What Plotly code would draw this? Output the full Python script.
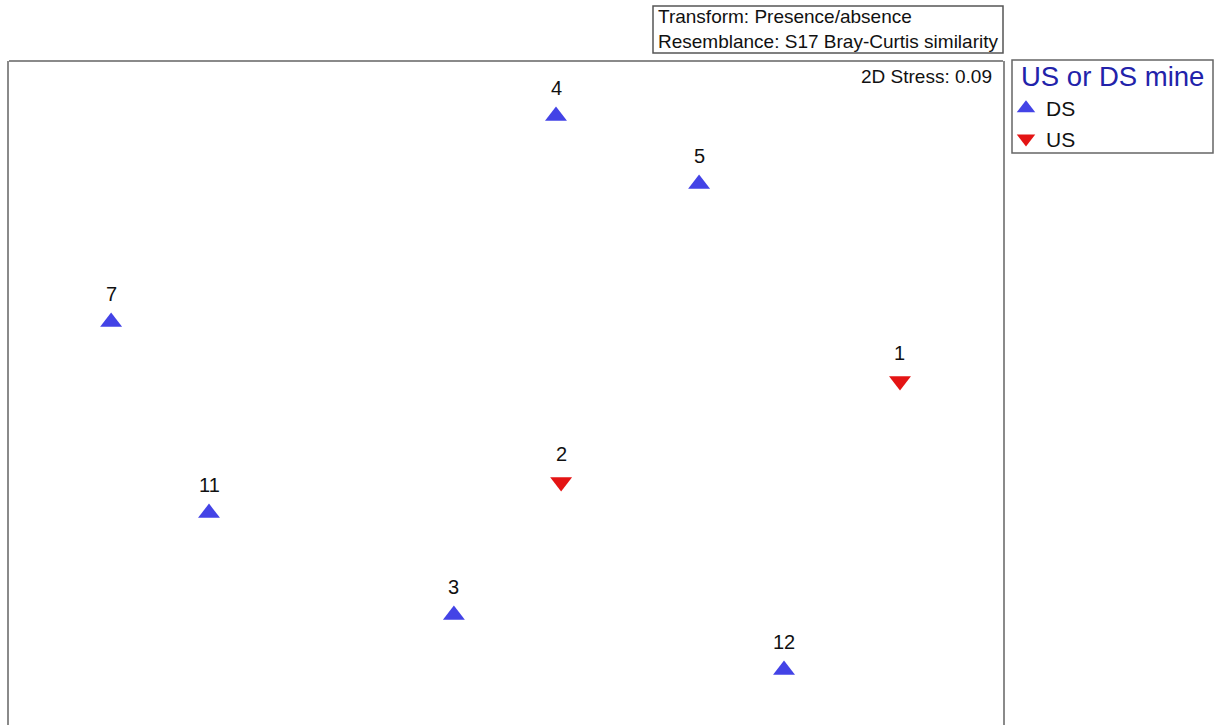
import plotly.graph_objects as go

# NMDS ordination coordinates
samples = ["1", "2", "3", "4", "5", "7", "11", "12"]
groups = ["US", "US", "DS", "DS", "DS", "DS", "DS", "DS"]
nmds1 = [1.358, 0.233, -0.123, 0.216, 0.691, -1.261, -0.936, 0.973]
nmds2 = [0.066, -0.277, -0.727, 0.964, 0.733, 0.266, -0.382, -0.914]

group_order = ["DS", "US"]
group_symbols = {"DS": "triangle-up", "US": "triangle-down"}
group_colors = {"DS": "#4343E6", "US": "#E41414"}

FONT = "Liberation Sans, Arial, sans-serif"
W, H = 1220, 725
BOX_L, BOX_R, BOX_T = 9, 1003, 61

fig = go.Figure()
for g in group_order:
    xs = [x for x, gg in zip(nmds1, groups) if gg == g]
    ys = [y for y, gg in zip(nmds2, groups) if gg == g]
    fig.add_trace(go.Scatter(
        x=xs, y=ys, mode="markers", name=g,
        marker=dict(symbol=group_symbols[g], size=19, color=group_colors[g],
                    line=dict(width=0)),
    ))

# sample labels
for s, x, y in zip(samples, nmds1, nmds2):
    fig.add_annotation(x=x, y=y, text=s, showarrow=False, yshift=28,
                       font=dict(family=FONT, size=20, color="#111111"))

# stress text
fig.add_annotation(xref="paper", yref="paper", x=994 / W, y=1 - 76 / H,
                   xanchor="right", yanchor="middle", showarrow=False,
                   text="2D Stress: 0.09",
                   font=dict(family=FONT, size=19, color="#111111"))

# transform / resemblance box
fig.add_shape(type="rect", xref="paper", yref="paper",
              x0=653 / W, x1=1003 / W, y0=1 - 53 / H, y1=1 - 6 / H,
              line=dict(color="#555555", width=1.5), fillcolor="white")
fig.add_annotation(xref="paper", yref="paper", x=656 / W, y=1 - 29.5 / H,
                   xanchor="left", yanchor="middle", align="left", showarrow=False,
                   text="Transform: Presence/absence<br>Resemblance: S17 Bray-Curtis similarity",
                   font=dict(family=FONT, size=19, color="#111111"))

# plot frame (top line)
fig.add_shape(type="line", xref="paper", yref="paper",
              x0=BOX_L / W, x1=BOX_R / W, y0=1 - BOX_T / H, y1=1 - BOX_T / H,
              line=dict(color="#8a8a8a", width=2))

# legend box and title
fig.add_shape(type="rect", xref="paper", yref="paper",
              x0=1012 / W, x1=1213 / W, y0=1 - 153 / H, y1=1 - 60 / H,
              line=dict(color="#666666", width=1.5), fillcolor="white")
fig.add_annotation(xref="paper", yref="paper", x=1019 / W, y=1 - 77 / H,
                   xanchor="left", yanchor="middle", showarrow=False,
                   text="US or DS mine",
                   font=dict(family=FONT, size=27.5, color="#2222AA"))

fig.update_layout(
    width=W, height=H,
    margin=dict(l=0, r=0, t=0, b=0),
    paper_bgcolor="white", plot_bgcolor="white",
    showlegend=True,
    legend=dict(x=1006 / W, y=1 - 88 / H, xanchor="left", yanchor="top",
                bgcolor="rgba(0,0,0,0)", borderwidth=0,
                font=dict(family=FONT, size=21, color="#111111"),
                tracegroupgap=0),
    xaxis=dict(domain=[BOX_L / W, BOX_R / W], range=[-1.6, 1.7],
               showgrid=False, zeroline=False, showticklabels=False, ticks="",
               showline=False),
    yaxis=dict(domain=[0, 1 - BOX_T / H], range=[-1.1, 1.15],
               showgrid=False, zeroline=False, showticklabels=False, ticks="",
               showline=True, mirror=True, linecolor="#8a8a8a", linewidth=2),
)

fig.write_html("out.html", config={"displayModeBar": False},
               post_script="document.body.style.margin='0px';")
